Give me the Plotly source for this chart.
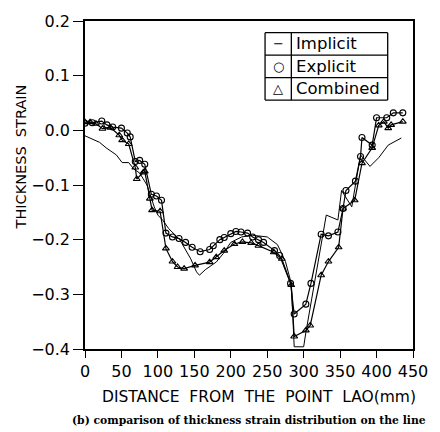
import plotly.graph_objects as go

# ---- data ----
imp_x = [0, 5, 20, 29, 43, 51, 60, 67, 75, 85, 95, 100, 107, 115, 130, 145, 153, 157, 165, 180, 190, 200,
         215, 230, 250, 264, 275, 283, 287, 287, 300, 303, 331, 347, 352, 366, 378, 391, 403, 416, 434]
imp_y = [-0.010, -0.013, -0.022, -0.032, -0.045, -0.059, -0.059, -0.071, -0.078, -0.100, -0.140, -0.155,
         -0.165, -0.180, -0.200, -0.235, -0.259, -0.265, -0.255, -0.241, -0.225, -0.205, -0.195, -0.192,
         -0.195, -0.209, -0.240, -0.280, -0.375, -0.396, -0.396, -0.370, -0.155, -0.164, -0.110, -0.140,
         -0.045, -0.066, -0.050, -0.027, -0.014]

exp_x = [0, 10, 23, 30, 38, 50, 58, 62, 69, 75, 82, 91, 98, 105, 111, 120, 129, 138, 147, 158, 171, 176,
         185, 191, 200, 207, 214, 223, 230, 238, 245, 260, 267, 282, 287, 303, 310, 324, 334, 347, 354,
         358, 371, 378, 380, 394, 400, 414, 423, 436]
exp_y = [0.013, 0.014, 0.017, 0.010, 0.006, 0.004, -0.005, -0.012, -0.057, -0.055, -0.062, -0.117, -0.120,
         -0.128, -0.188, -0.195, -0.198, -0.205, -0.214, -0.222, -0.218, -0.211, -0.200, -0.196, -0.189,
         -0.185, -0.186, -0.188, -0.195, -0.200, -0.205, -0.220, -0.229, -0.280, -0.336, -0.318, -0.280,
         -0.190, -0.193, -0.186, -0.143, -0.110, -0.093, -0.048, -0.013, -0.027, 0.023, 0.023, 0.032, 0.032]

com_x = [0, 7, 15, 24, 35, 47, 51, 60, 69, 71, 80, 82, 89, 92, 103, 111, 120, 127, 136, 151, 171, 180,
         191, 205, 216, 228, 238, 259, 270, 283, 287, 303, 309, 324, 334, 348, 354, 370, 380, 394, 403,
         410, 416, 420, 436]
com_y = [0.015, 0.015, 0.012, 0.003, 0.005, -0.009, -0.018, -0.025, -0.068, -0.089, -0.077, -0.075,
         -0.125, -0.146, -0.148, -0.216, -0.240, -0.250, -0.253, -0.247, -0.241, -0.232, -0.220, -0.208,
         -0.204, -0.206, -0.211, -0.223, -0.235, -0.283, -0.377, -0.366, -0.357, -0.265, -0.240, -0.214,
         -0.143, -0.128, -0.060, -0.032, 0.009, 0.016, 0.004, 0.010, 0.016]

x_ticks = [0, 50, 100, 150, 200, 250, 300, 350, 400, 450]
y_ticks = [0.2, 0.1, 0.0, -0.1, -0.2, -0.3, -0.4]
legend_names = ["Implicit", "Explicit", "Combined"]
legend_syms = ["\u2212", "\u25cb", "\u25b3"]

FONT = "DejaVu Sans"

W, H = 440, 432
L, R, T, B = 85, 18, 13, 83
PW, PH = W - L - R, H - T - B

fig = go.Figure()
fig.add_trace(go.Scatter(x=imp_x, y=imp_y, mode="lines", line=dict(color="black", width=1),
                         name=legend_names[0]))
fig.add_trace(go.Scatter(x=exp_x, y=exp_y, mode="lines+markers", line=dict(color="black", width=1.2),
                         marker=dict(symbol="circle-open", size=6, color="black", line=dict(width=1.1)),
                         name=legend_names[1]))
fig.add_trace(go.Scatter(x=com_x, y=com_y, mode="lines+markers", line=dict(color="black", width=1.2),
                         marker=dict(symbol="triangle-up-open", size=6, color="black", line=dict(width=1.1)),
                         name=legend_names[2]))

# legend frame drawn on a hidden pixel-space overlay axis
lx0, lx1, lxs = 270, 396, 297
rows = [25, 48, 71, 94]
segs = [(lx0, rows[0], lx1, rows[0]), (lx0, rows[-1], lx1, rows[-1]),
        (lx0, rows[0], lx0, rows[-1]), (lx1, rows[0], lx1, rows[-1]),
        (lxs, rows[0], lxs, rows[-1])] + [(lx0, r, lx1, r) for r in rows[1:-1]]
fx, fy = [], []
for (a, b, c, d) in segs:
    fx += [a, c, None]
    fy += [b, d, None]
fig.add_trace(go.Scatter(x=[lx0, lx1, lx1, lx0, lx0], y=[rows[0], rows[0], rows[-1], rows[-1], rows[0]],
                         mode="lines", fill="toself", fillcolor="white", line=dict(width=0),
                         xaxis="x2", yaxis="y2", hoverinfo="skip"))
fig.add_trace(go.Scatter(x=fx, y=fy, mode="lines", line=dict(color="black", width=1.3),
                         xaxis="x2", yaxis="y2", hoverinfo="skip"))

fig.update_layout(
    width=W, height=H, margin=dict(l=L, r=R, t=T, b=B),
    paper_bgcolor="white", plot_bgcolor="white", showlegend=False,
    font=dict(family=FONT, color="black", size=15),
    xaxis=dict(range=[0, 450], tickvals=x_ticks, ticktext=[str(v) for v in x_ticks],
               showgrid=False, zeroline=False, showline=True, linecolor="black", linewidth=1.5,
               mirror=True, ticks="outside", ticklen=7, tickwidth=1.3, tickcolor="black",
               tickfont=dict(size=16, family=FONT)),
    yaxis=dict(range=[-0.4, 0.2], tickvals=y_ticks, tickformat=".1f",
               showgrid=False, zeroline=False, showline=True, linecolor="black", linewidth=1.5,
               mirror=True, ticks="outside", ticklen=10, tickwidth=1.3, tickcolor="black",
               tickfont=dict(size=16, family=FONT)),
    xaxis2=dict(overlaying="x", range=[L, W - R], visible=False, showgrid=False, zeroline=False),
    yaxis2=dict(overlaying="y", range=[H - B, T], visible=False, showgrid=False, zeroline=False),
)

def px(xp):
    return (xp - L) / PW

def py(yp):
    return (H - B - yp) / PH

# axis titles and caption
fig.add_annotation(text="DISTANCE  FROM  THE  POINT  LAO(mm)", xref="paper", yref="paper",
                   x=px(264), y=py(398), showarrow=False, font=dict(size=15.5, family=FONT),
                   xanchor="center", yanchor="middle")
fig.add_annotation(text="THICKNESS  STRAIN", xref="paper", yref="paper", x=px(19), y=py(152),
                   showarrow=False, textangle=-90, font=dict(size=14.5, family=FONT),
                   xanchor="center", yanchor="middle")
fig.add_annotation(text="<b>(b) comparison of thickness strain distribution on the line</b>",
                   xref="paper", yref="paper", x=px(254), y=py(422), showarrow=False,
                   font=dict(size=10.8, family="DejaVu Serif"), xanchor="center", yanchor="middle")

for i, (nm, sy) in enumerate(zip(legend_names, legend_syms)):
    yc = (rows[i] + rows[i + 1]) / 2
    fig.add_annotation(text=sy, xref="paper", yref="paper", x=px((lx0 + lxs) / 2), y=py(yc),
                       showarrow=False, font=dict(size=13, family=FONT), xanchor="center",
                       yanchor="middle")
    fig.add_annotation(text=nm, xref="paper", yref="paper", x=px(lxs + 3), y=py(yc),
                       showarrow=False, font=dict(size=16.5, family=FONT), xanchor="left",
                       yanchor="middle")

fig.write_html("out.html")
